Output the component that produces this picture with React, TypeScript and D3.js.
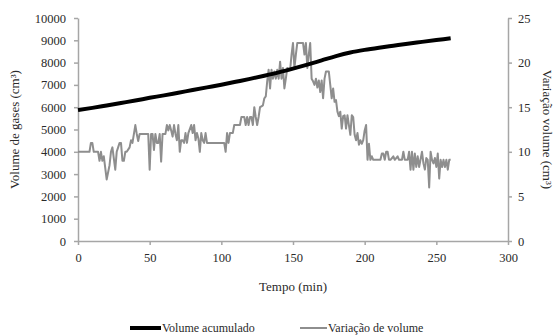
import React, { useEffect, useRef } from 'react';
import * as d3 from 'd3';

// Volume acumulado (cm³)
const tempoAcumulado = [0, 10, 20, 30, 40, 50, 60, 70, 80, 90, 100, 110, 120, 130, 140, 150, 160, 170, 180, 190, 200, 210, 220, 230, 240, 250, 260];
const volumeAcumulado = [5870, 5970, 6080, 6190, 6300, 6420, 6530, 6650, 6770, 6890, 7010, 7140, 7270, 7410, 7560, 7730, 7910, 8100, 8290, 8450, 8570, 8670, 8760, 8850, 8930, 9010, 9090];

// Variação de volume (cm³): [tempo, valor]
const variacao: [number, number][] = [
  [0, 10], [2, 10], [4, 10], [6, 10], [8, 10], [9, 11], [10, 11], [11, 10], [14, 10], [15, 9], [16, 10], [17, 9], [18, 9.5],
  [20, 6.9], [22, 8.5], [23, 10], [24, 10.5], [26, 8], [27, 10], [28, 10.5], [29, 11], [30, 11], [31, 9], [32, 9], [33, 10],
  [34, 10], [36, 10.5], [37, 11.3], [38, 11], [40, 13], [41, 12], [42, 11.2], [43, 12], [45, 12], [48, 12], [49, 12], [50, 8],
  [51, 12], [52, 12], [53, 10.2], [54, 12], [55, 11], [56, 11], [57, 12], [58, 8.9], [59, 12], [61, 12], [62, 13], [63, 12.4],
  [64, 13], [65, 12.4], [66, 11.7], [67, 13], [68, 12], [69, 11.3], [70, 13], [71, 10], [72, 11.3], [73, 11.3], [74, 11],
  [75, 12.1], [76, 11], [77, 12.1], [79, 13], [80, 12.1], [81, 13], [82, 11.3], [83, 12.1], [84, 11.5], [85, 10], [86, 12.1],
  [87, 11.3], [88, 11], [89, 12.1], [90, 11], [92, 11], [102, 11], [103, 10], [104, 12.1], [105, 11], [106, 12.1], [108, 12.1],
  [109, 13], [113, 13], [114, 13.9], [116, 13.9], [117, 13], [118, 13.9], [119, 13], [120, 13.9], [121, 13.9], [122, 13],
  [123, 15], [124, 13.9], [125, 13], [126, 13.9], [127, 15], [128, 15.1], [129, 15.2], [130, 16], [131, 16.2], [132, 17.9],
  [133, 19.2], [134, 17.1], [135, 19.2], [136, 18.2], [137, 19], [138, 18.2], [139, 19.2], [140, 18.2], [141, 20.1], [142, 18.2],
  [143, 19.4], [144, 17.1], [145, 18.2], [146, 19.4], [148, 19.2], [149, 20.9], [150, 22.2], [151, 19.4], [152, 20.9], [153, 22.2],
  [157, 22.2], [158, 20.9], [159, 22.2], [160, 19.4], [161, 20.9], [162, 22.2], [163, 18.2], [164, 17.9], [165, 17.5], [166, 18.2],
  [167, 17.2], [168, 18], [169, 16.7], [170, 18], [171, 16], [172, 18.2], [173, 19], [175, 19], [176, 17.5], [177, 16], [178, 17.1],
  [179, 15.6], [180, 15.8], [181, 14.5], [182, 14], [183, 14.5], [184, 12.6], [185, 14], [186, 14.1], [187, 12.6], [188, 14.1],
  [189, 13], [190, 11.9], [191, 14.1], [192, 13.9], [193, 11.9], [194, 11.3], [195, 12.1], [196, 10.8], [197, 11.3], [198, 10.9],
  [199, 11.3], [200, 12.4], [201, 13], [202, 9.1], [203, 10.9], [204, 9.1], [205, 9.5], [206, 9.1], [211, 9.1], [212, 9.8],
  [213, 9.8], [214, 9.1], [215, 10], [216, 10], [217, 9.1], [218, 9.1], [220, 9.5], [221, 9.1], [223, 9.5], [224, 9.1], [226, 9.1],
  [227, 10], [228, 9.1], [230, 9.1], [231, 10], [232, 8], [233, 10], [234, 8], [235, 9.8], [236, 8.3], [237, 9.5], [238, 8.3],
  [240, 10], [241, 8.7], [242, 8], [243, 9.3], [244, 9.1], [245, 6], [246, 10], [247, 9.1], [248, 8.7], [249, 9.3], [250, 8.3],
  [251, 9.8], [252, 7], [253, 9.1], [254, 8.3], [255, 9.1], [256, 8.3], [257, 9.1], [258, 8], [259, 9.1], [260, 9.1],
];

const ticksX = [0, 50, 100, 150, 200, 250, 300];
const ticksEsq = [0, 1000, 2000, 3000, 4000, 5000, 6000, 7000, 8000, 9000, 10000];
const ticksDir = [0, 5, 10, 15, 20, 25];

const W = 558;
const H = 336;
const FONT = 'Liberation Serif, DejaVu Serif, serif';
const AXIS_COLOR = '#a6a6a6';
const TEXT_COLOR = '#2a2a2a';

const App = () => {
  const svgRef = useRef<SVGSVGElement>(null);

  useEffect(() => {
    const svg = d3.select(svgRef.current);
    svg.selectAll('*').remove();

    const left = 78, right = 508, top = 18, bottom = 241;

    const x = d3.scaleLinear().domain([0, 300]).range([left, right]);
    const yEsq = d3.scaleLinear().domain([0, 10000]).range([bottom, top]);
    const yDir = d3.scaleLinear().domain([0, 25]).range([bottom, top]);

    const styleAxis = (g: any) => {
      g.attr('font-family', FONT).attr('font-size', 12.5);
      g.select('.domain').attr('stroke', AXIS_COLOR).attr('stroke-width', 1.5);
      g.selectAll('.tick line').attr('stroke', AXIS_COLOR).attr('stroke-width', 1.5);
      g.selectAll('.tick text').attr('fill', TEXT_COLOR);
    };

    svg.append('g')
      .attr('transform', `translate(0,${bottom})`)
      .call(d3.axisBottom(x).tickValues(ticksX).tickSize(4).tickSizeOuter(0).tickPadding(8))
      .call(styleAxis);

    svg.append('g')
      .attr('transform', `translate(${left},0)`)
      .call(d3.axisLeft(yEsq).tickValues(ticksEsq).tickSize(4).tickSizeOuter(0).tickPadding(8).tickFormat(d3.format('d')))
      .call(styleAxis);

    svg.append('g')
      .attr('transform', `translate(${right},0)`)
      .call(d3.axisRight(yDir).tickValues(ticksDir).tickSize(4).tickSizeOuter(0).tickPadding(6))
      .call(styleAxis);

    // Variação de volume (gray, right axis)
    const lineDir = d3.line<[number, number]>()
      .x(d => x(d[0]))
      .y(d => yDir(d[1]));

    svg.append('path')
      .datum(variacao)
      .attr('fill', 'none')
      .attr('stroke', '#8e8e8e')
      .attr('stroke-width', 2)
      .attr('stroke-linejoin', 'round')
      .attr('d', lineDir);

    // Volume acumulado (black, left axis)
    const lineEsq = d3.line<number>()
      .x((_, i) => x(tempoAcumulado[i]))
      .y(d => yEsq(d))
      .curve(d3.curveMonotoneX);

    svg.append('path')
      .datum(volumeAcumulado)
      .attr('fill', 'none')
      .attr('stroke', '#000')
      .attr('stroke-width', 4)
      .attr('d', lineEsq);

    // Axis titles
    const title = (sel: any) => sel
      .attr('fill', TEXT_COLOR)
      .attr('font-family', FONT)
      .attr('font-size', 13)
      .attr('text-anchor', 'middle');

    svg.append('text')
      .attr('x', (left + right) / 2)
      .attr('y', 291)
      .text('Tempo (min)')
      .call(title);

    svg.append('text')
      .attr('transform', `translate(19,${(top + bottom) / 2}) rotate(-90)`)
      .text('Volume de gases (cm³)')
      .call(title);

    svg.append('text')
      .attr('transform', `translate(543,${(top + bottom) / 2}) rotate(90)`)
      .text('Variação volume (cm³)')
      .call(title);

    // Legend
    const legend = svg.append('g')
      .attr('transform', 'translate(0,328)')
      .attr('font-family', FONT)
      .attr('font-size', 12)
      .attr('fill', TEXT_COLOR);
    legend.append('line')
      .attr('x1', 130).attr('x2', 161).attr('y1', 0).attr('y2', 0)
      .attr('stroke', '#000').attr('stroke-width', 4);
    legend.append('text')
      .attr('x', 162).attr('y', 4)
      .text('Volume acumulado');
    legend.append('line')
      .attr('x1', 300).attr('x2', 327).attr('y1', 0).attr('y2', 0)
      .attr('stroke', '#8e8e8e').attr('stroke-width', 2);
    legend.append('text')
      .attr('x', 328).attr('y', 4)
      .text('Variação de volume');
  }, []);

  return (
    <svg
      ref={svgRef}
      width={W}
      height={H}
      style={{ position: 'absolute', left: 0, top: 0, background: '#fff' }}
    />
  );
};

export default App;
